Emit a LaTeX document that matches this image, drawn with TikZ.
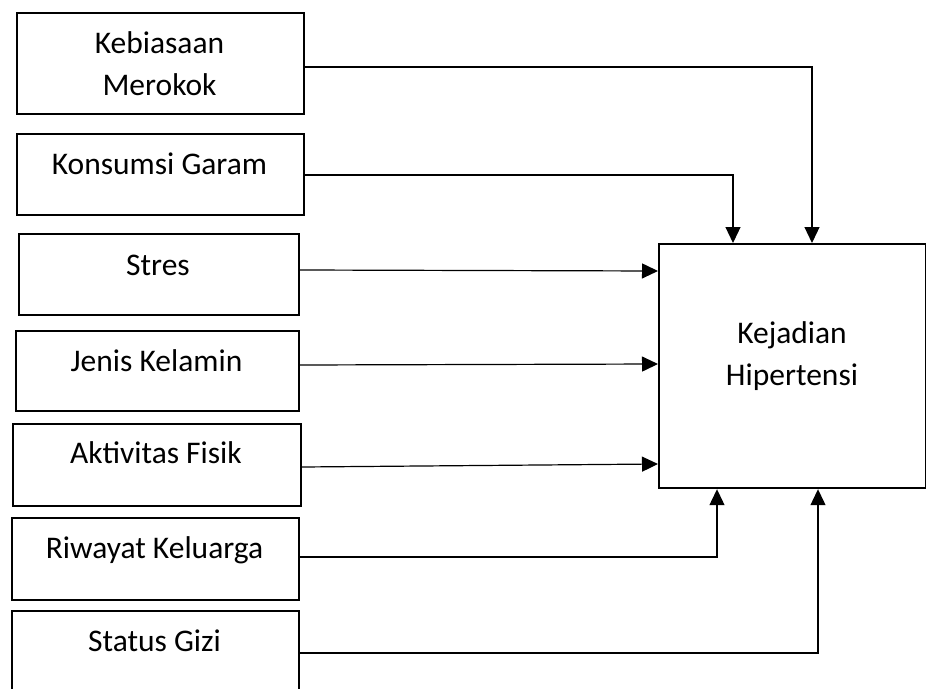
\documentclass[tikz,border=0pt]{standalone}
\usepackage{fontspec}
\setmainfont{Carlito}
\usetikzlibrary{arrows.meta}
\begin{document}
\begin{tikzpicture}[x=1pt,y=-1pt,
  box/.style={draw, line width=2.2pt, inner sep=0pt, anchor=north west},
  lbl/.style={inner sep=0pt, anchor=base, align=center, font=\fontsize{31.5}{42}\selectfont},
  conn/.style={line width=1.2pt},
  arr/.style={conn, -{Triangle[length=16pt,width=15pt]}}]
\useasboundingbox (0,0) rectangle (926,688);
% boxes
\node[box, minimum width=287pt, minimum height=101pt] (b1) at (16,12) {};
\node[box, minimum width=287pt, minimum height=81pt] (b2) at (16,133) {};
\node[box, minimum width=280pt, minimum height=81pt] (b3) at (18,233) {};
\node[box, minimum width=283pt, minimum height=80pt] (b4) at (15,330) {};
\node[box, minimum width=288pt, minimum height=82pt] (b5) at (12,423) {};
\node[box, minimum width=287pt, minimum height=82pt] (b6) at (11,517) {};
\node[box, minimum width=287pt, minimum height=100pt] (b7) at (11,610) {};
\node[box, minimum width=267pt, minimum height=244pt] (hb) at (658,243) {};
% labels (base anchor = last line)
\node[lbl] (t1) at (159.5,95) {Kebiasaan\\Merokok};
\node[lbl] (t2) at (159.5,174) {Konsumsi Garam};
\node[lbl] (t3) at (158,275) {Stres};
\node[lbl] (t4) at (156.5,371) {Jenis Kelamin};
\node[lbl] (t5) at (156,463) {Aktivitas Fisik};
\node[lbl] (t6) at (154.5,558) {Riwayat Keluarga};
\node[lbl] (t7) at (154.5,651) {Status Gizi};
\node[lbl] (th) at (792,385) {Kejadian\\Hipertensi};
% connectors
\draw[arr] (b1.east |- 0,67) -| ([xshift=154pt]hb.north west);
\draw[arr] (b2.east |- 0,175) -| ([xshift=75pt]hb.north west);
\draw[arr] (b3.east |- 0,270) -- (hb.west |- 0,271);
\draw[arr] (b4.east |- 0,365) -- (hb.west |- 0,364);
\draw[arr] (b5.east |- 0,467) -- (hb.west |- 0,464);
\draw[arr] (b6.east |- 0,557) -| ([xshift=59pt]hb.south west);
\draw[arr] (b7.east |- 0,653) -| ([xshift=160pt]hb.south west);
\end{tikzpicture}
\end{document}
